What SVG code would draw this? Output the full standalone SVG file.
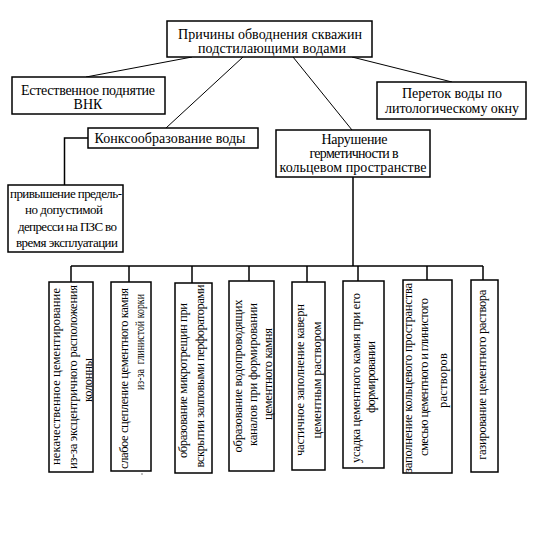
<svg xmlns="http://www.w3.org/2000/svg" width="544" height="533" viewBox="0 0 544 533">
<style>
  .box { fill: #ffffff; stroke: #000000; stroke-width: 1.5; }
  .ln { fill: none; stroke: #000000; stroke-width: 1.5; }
  .dg { fill: none; stroke: #000000; stroke-width: 1; }
  text { font-family: "Liberation Serif", "DejaVu Serif", "Times New Roman", serif; fill: #000000; }
  .h { font-size: 14px; text-anchor: middle; }
  .s { font-size: 13px; text-anchor: middle; }
  .v { font-size: 12.5px; text-anchor: middle; }
</style>
<rect x="0" y="0" width="544" height="533" fill="#ffffff"/>

<g id="connectors">
  <line class="dg" x1="192" y1="57" x2="86" y2="77"/>
  <line class="dg" x1="243" y1="57" x2="166" y2="128"/>
  <line class="dg" x1="293" y1="57" x2="352" y2="130"/>
  <line class="dg" x1="352" y1="57" x2="452" y2="82"/>
  <polyline class="ln" points="88,138 64.5,138 64.5,185"/>
  <line class="ln" x1="353" y1="177" x2="353" y2="266"/>
  <line class="ln" x1="71" y1="266" x2="483" y2="266"/>
  <line class="ln" x1="71" y1="266" x2="71" y2="282"/>
  <line class="ln" x1="129" y1="266" x2="129" y2="282"/>
  <line class="ln" x1="192" y1="266" x2="192" y2="283"/>
  <line class="ln" x1="249" y1="266" x2="249" y2="281"/>
  <line class="ln" x1="307" y1="266" x2="307" y2="282"/>
  <line class="ln" x1="358" y1="266" x2="358" y2="281"/>
  <line class="ln" x1="427" y1="266" x2="427" y2="280"/>
  <line class="ln" x1="483" y1="266" x2="483" y2="280"/>
</g>

<g id="root">
  <rect class="box" x="167" y="21" width="205" height="36"/>
  <text class="h" x="270" y="38.5" textLength="184">Причины обводнения скважин</text>
  <text class="h" x="272" y="52.5" textLength="148">подстилающими водами</text>
</g>

<g id="vnk">
  <rect class="box" x="12" y="77" width="153" height="37"/>
  <text class="h" x="88" y="94.5" textLength="134">Естественное поднятие</text>
  <text class="h" x="88" y="109">ВНК</text>
</g>

<g id="perevtok">
  <rect class="box" x="377" y="82" width="149" height="37"/>
  <text class="h" x="452" y="98" textLength="100">Переток воды по</text>
  <text class="h" x="452" y="113" textLength="134">литологическому окну</text>
</g>

<g id="konks">
  <rect class="box" x="88" y="128" width="170" height="20"/>
  <text class="h" x="170" y="143" textLength="151">Конксообразование воды</text>
</g>

<g id="narushenie">
  <rect class="box" x="276" y="130" width="154" height="47"/>
  <text class="h" x="354.5" y="144" textLength="66">Нарушение</text>
  <text class="h" x="354" y="157.5" textLength="89">герметичности в</text>
  <text class="h" x="353" y="171.5" textLength="147">кольцевом пространстве</text>
</g>

<g id="depressia">
  <rect class="box" x="8" y="185" width="115" height="67"/>
  <text class="s" x="66" y="198" textLength="112">привышение предель-</text>
  <text class="s" x="64" y="214" textLength="78">но допустимой</text>
  <text class="s" x="67.5" y="230.5" textLength="99">депресси на ПЗС во</text>
  <text class="s" x="67" y="247" textLength="102">время эксплуатации</text>
</g>

<g id="b1">
  <rect class="box" x="49" y="282" width="44" height="190"/>
  <text class="v" transform="translate(60,376.5) rotate(-90)" textLength="177">некачественное цементирование</text>
  <text class="v" transform="translate(76.5,377) rotate(-90)" textLength="184">из-за эксцентричного расположения</text>
  <text class="v" transform="translate(91.5,380) rotate(-90)" textLength="44">колонны</text>
</g>

<g id="b2">
  <rect class="box" x="111" y="282" width="40" height="189"/>
  <text class="v" transform="translate(128,378.5) rotate(-90)" textLength="181">слабое сцепление цементного камня</text>
  <text class="v" transform="translate(144,342) rotate(-90)" textLength="96" lengthAdjust="spacingAndGlyphs">из-за&#160; глинистой корки</text>
</g>

<g id="b3">
  <rect class="box" x="175" y="283" width="37" height="190"/>
  <text class="v" transform="translate(187,380.5) rotate(-90)" textLength="155">образование микротрещин при</text>
  <text class="v" transform="translate(204,376) rotate(-90)" textLength="183">вскрытии залповыми перфораторами</text>
</g>

<g id="b4">
  <rect class="box" x="229" y="281" width="45" height="190"/>
  <text class="v" transform="translate(241.5,376) rotate(-90)" textLength="153">образование водопроводящих</text>
  <text class="v" transform="translate(256.5,374.5) rotate(-90)" textLength="143">каналов при формировании</text>
  <text class="v" transform="translate(271.5,374) rotate(-90)" textLength="92">цементного камня</text>
</g>

<g id="b5">
  <rect class="box" x="292" y="282" width="33" height="188"/>
  <text class="v" transform="translate(304,380) rotate(-90)" textLength="152">частичное заполнение каверн</text>
  <text class="v" transform="translate(320.5,380) rotate(-90)" textLength="117">цементным раствором</text>
</g>

<g id="b6">
  <rect class="box" x="343" y="281" width="41" height="187"/>
  <text class="v" transform="translate(359.5,378) rotate(-90)" textLength="170">усадка цементного камня при его</text>
  <text class="v" transform="translate(375,377) rotate(-90)" textLength="72">формировании</text>
</g>

<g id="b7">
  <rect class="box" x="403" y="280" width="49" height="193"/>
  <text class="v" transform="translate(411.5,378) rotate(-90)" textLength="190">заполнение кольцевого пространства</text>
  <text class="v" transform="translate(428,377) rotate(-90)" textLength="158">смесью цементного и глинистого</text>
  <text class="v" transform="translate(446.5,380.5) rotate(-90)" textLength="55">растворов</text>
</g>

<g id="b8">
  <rect class="box" x="471" y="280" width="27" height="192"/>
  <text class="v" transform="translate(486,374.7) rotate(-90)" textLength="170">газирование цементного раствора</text>
</g>

<rect x="141.5" y="473.5" width="1" height="1" fill="#000000"/>
</svg>
